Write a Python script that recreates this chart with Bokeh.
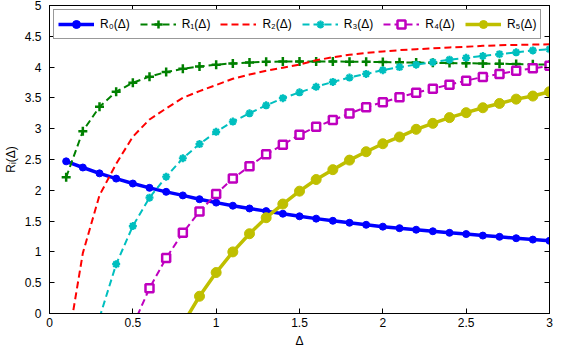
import numpy as np
from bokeh.plotting import figure
from bokeh.models import (LinearAxis, FixedTicker, NumeralTickFormatter, Legend,
                          LegendItem, Range1d)
from bokeh.embed import file_html
from bokeh.resources import INLINE

nan = float("nan")

# ---- data ----
delta = [0.1, 0.2, 0.3, 0.4, 0.5, 0.6, 0.7, 0.8, 0.9, 1.0,
         1.1, 1.2, 1.3, 1.4, 1.5, 1.6, 1.7, 1.8, 1.9, 2.0,
         2.1, 2.2, 2.3, 2.4, 2.5, 2.6, 2.7, 2.8, 2.9, 3.0]

r0 = [2.47, 2.37, 2.275, 2.19, 2.11, 2.04, 1.975, 1.917, 1.855, 1.80,
      1.75, 1.705, 1.662, 1.62, 1.578, 1.54, 1.505, 1.473, 1.44, 1.41,
      1.385, 1.36, 1.335, 1.31, 1.29, 1.265, 1.245, 1.222, 1.20, 1.18]

r1 = [2.21, 2.96, 3.355, 3.60, 3.745, 3.845, 3.92, 3.972, 4.01, 4.04,
      4.06, 4.075, 4.085, 4.09, 4.09, 4.09, 4.09, 4.088, 4.085, 4.082,
      4.078, 4.074, 4.07, 4.066, 4.062, 4.058, 4.054, 4.05, 4.046, 4.04]

r2 = [-0.65, 0.98, 1.92, 2.43, 2.87, 3.15, 3.33, 3.50, 3.61, 3.71,
      3.81, 3.88, 3.94, 3.99, 4.04, 4.11, 4.16, 4.20, 4.23, 4.255,
      4.275, 4.29, 4.305, 4.32, 4.33, 4.345, 4.355, 4.36, 4.365, 4.37]

r3 = [nan, nan, -0.07, 0.80, 1.42, 1.88, 2.22, 2.52, 2.75, 2.95,
      3.115, 3.25, 3.38, 3.495, 3.59, 3.68, 3.76, 3.83, 3.89, 3.95,
      4.0, 4.04, 4.08, 4.12, 4.15, 4.18, 4.21, 4.24, 4.27, 4.29]

r4 = [nan, nan, nan, nan, -0.2, 0.41, 0.90, 1.31, 1.655, 1.94,
      2.19, 2.39, 2.585, 2.74, 2.90, 3.03, 3.14, 3.245, 3.35, 3.43,
      3.51, 3.585, 3.65, 3.715, 3.78, 3.84, 3.89, 3.94, 3.98, 4.02]

r5 = [nan, nan, nan, nan, nan, nan, nan, -0.17, 0.28, 0.665,
      1.0, 1.295, 1.555, 1.777, 1.986, 2.175, 2.335, 2.49, 2.626, 2.756,
      2.866, 2.99, 3.087, 3.18, 3.26, 3.34, 3.41, 3.48, 3.53, 3.60]

series_labels = ["R₀(Δ)", "R₁(Δ)", "R₂(Δ)", "R₃(Δ)", "R₄(Δ)", "R₅(Δ)"]
x_ticks = [0, 0.5, 1, 1.5, 2, 2.5, 3]
y_ticks = [0, 0.5, 1, 1.5, 2, 2.5, 3, 3.5, 4, 4.5, 5]
x_label = "Δ"
y_label = "Rᵢ(Δ)"

BLUE, GREEN, RED = "#0000FF", "#008000", "#FF0000"
CYAN, MAG, OLIVE = "#00BFBF", "#BF00BF", "#BFBF00"
FONT = "Liberation Sans"

x = np.array(delta, dtype=float)

p = figure(width=573, height=350, x_range=Range1d(0, 3), y_range=Range1d(0, 5),
           output_backend="svg", toolbar_location=None,
           min_border_left=44, min_border_right=24, min_border_top=5,
           min_border_bottom=35)
p.grid.visible = False
p.outline_line_color = "black"
p.background_fill_color = "white"
p.border_fill_color = "white"

dash = "7 4"
l0 = p.line(x, np.array(r0, dtype=float), color=BLUE, line_width=3.5)
m0 = p.scatter(x, np.array(r0, dtype=float), marker="circle", size=7, color=BLUE)
l1 = p.line(x, np.array(r1, dtype=float), color=GREEN, line_width=2, line_dash=dash)
m1 = p.scatter(x, np.array(r1, dtype=float), marker="cross", size=9, line_width=2.5,
               color=GREEN)
l2 = p.line(x, np.array(r2, dtype=float), color=RED, line_width=2, line_dash=dash)
l3 = p.line(x, np.array(r3, dtype=float), color=CYAN, line_width=2, line_dash=dash)
m3 = p.scatter(x, np.array(r3, dtype=float), marker="asterisk", size=8, line_width=2.2,
               color=CYAN)
l4 = p.line(x, np.array(r4, dtype=float), color=MAG, line_width=2, line_dash=dash)
m4 = p.scatter(x, np.array(r4, dtype=float), marker="square", size=8, line_width=2.5,
               line_color=MAG, fill_color="white")
l5 = p.line(x, np.array(r5, dtype=float), color=OLIVE, line_width=3.5)
m5 = p.scatter(x, np.array(r5, dtype=float), marker="circle", size=10, color=OLIVE)


def style_axis(ax, ticks, show_labels=True, standoff=4):
    ax.ticker = FixedTicker(ticks=ticks)
    ax.formatter = NumeralTickFormatter(format="0.[0]")
    ax.major_tick_in = 5
    ax.major_tick_out = 0
    ax.minor_tick_in = 0
    ax.minor_tick_out = 0
    ax.axis_line_color = "black"
    ax.major_tick_line_color = "black"
    ax.major_label_text_font = FONT
    ax.major_label_text_color = "black"
    if show_labels:
        ax.major_label_text_font_size = "12px"
        ax.major_label_standoff = standoff
    else:
        ax.major_label_text_font_size = "0px"
        ax.major_label_standoff = 0


style_axis(p.xaxis[0], x_ticks, standoff=4)
style_axis(p.yaxis[0], y_ticks, standoff=8)
p.xaxis[0].axis_label = x_label
p.yaxis[0].axis_label = y_label
for ax in (p.xaxis[0], p.yaxis[0]):
    ax.axis_label_text_font = FONT
    ax.axis_label_text_font_size = "12px"
    ax.axis_label_text_font_style = "normal"
    ax.axis_label_text_color = "black"
p.xaxis[0].axis_label_standoff = 4
p.yaxis[0].axis_label_standoff = 4

top = LinearAxis()
style_axis(top, x_ticks, show_labels=False)
p.add_layout(top, "above")
right = LinearAxis()
style_axis(right, y_ticks, show_labels=False)
p.add_layout(right, "right")

items = [
    LegendItem(label=series_labels[0], renderers=[l0, m0]),
    LegendItem(label=series_labels[1], renderers=[l1, m1]),
    LegendItem(label=series_labels[2], renderers=[l2]),
    LegendItem(label=series_labels[3], renderers=[l3, m3]),
    LegendItem(label=series_labels[4], renderers=[l4, m4]),
    LegendItem(label=series_labels[5], renderers=[l5, m5]),
]
legend = Legend(items=items, location="top_left", orientation="horizontal",
                glyph_width=36, glyph_height=20, label_standoff=6, spacing=10,
                padding=4, margin=4, label_text_font=FONT,
                label_text_font_size="12px", label_text_color="black",
                border_line_color="#333333", border_line_width=1,
                background_fill_color="white", background_fill_alpha=1.0)
p.add_layout(legend)

open("out.html", "w").write(file_html(p, INLINE))
